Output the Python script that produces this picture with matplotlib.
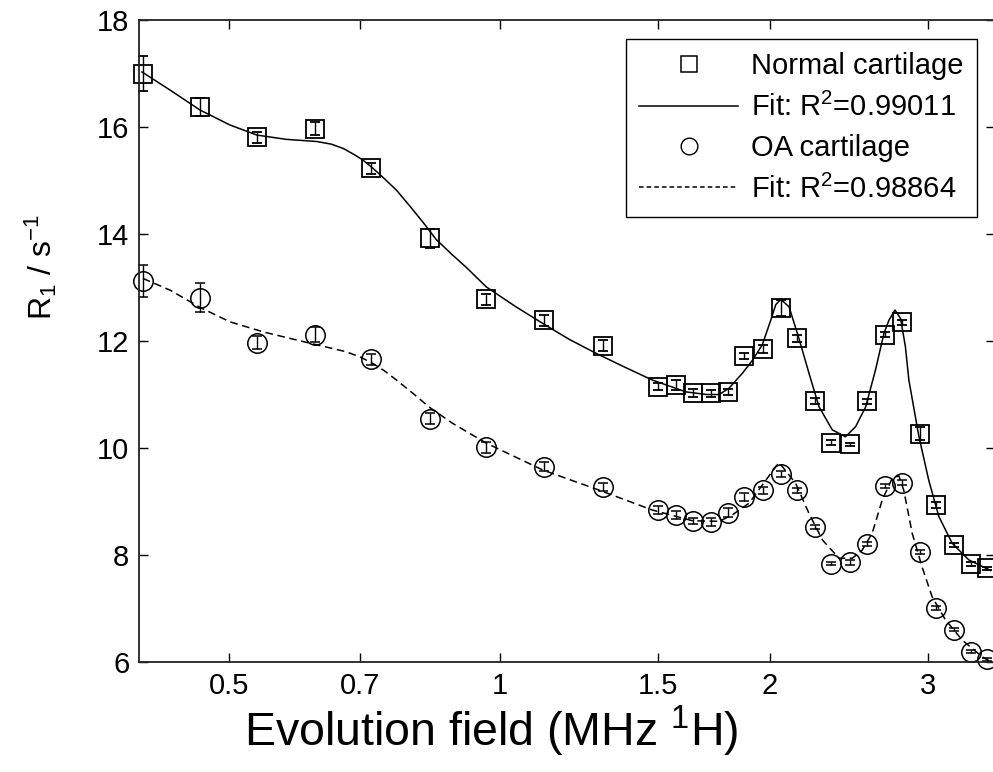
import numpy as np
import matplotlib
matplotlib.use('Agg')
import matplotlib.pyplot as plt
from matplotlib.lines import Line2D
from matplotlib.ticker import FixedLocator, FixedFormatter, NullLocator

# evolution field (MHz 1H) of each measured point
freq = [0.401, 0.464, 0.537, 0.623, 0.720, 0.836, 0.967, 1.122, 1.303,
        1.502, 1.571, 1.643, 1.721, 1.794, 1.872, 1.965, 2.056, 2.142,
        2.243, 2.340, 2.453, 2.566, 2.683, 2.806, 2.934, 3.060, 3.204,
        3.352, 3.489]

# R1 (1/s), normal cartilage
normal_r1 = [17.00, 16.38, 15.81, 15.97, 15.23, 13.92, 12.78, 12.39, 11.91,
             11.15, 11.18, 11.03, 11.02, 11.05, 11.72, 11.85, 12.61, 12.05,
             10.88, 10.10, 10.07, 10.87, 12.12, 12.35, 10.27, 8.93, 8.19,
             7.83, 7.75]
normal_err = [0.33, 0.17, 0.10, 0.12, 0.10, 0.18, 0.10, 0.10, 0.10,
              0.07, 0.10, 0.07, 0.07, 0.05, 0.06, 0.07, 0.15, 0.06,
              0.06, 0.05, 0.03, 0.04, 0.05, 0.05, 0.12, 0.06, 0.04,
              0.03, 0.03]

# R1 (1/s), OA cartilage
oa_r1 = [13.12, 12.81, 11.97, 12.12, 11.66, 10.55, 10.01, 9.65, 9.27,
         8.84, 8.75, 8.64, 8.62, 8.79, 9.08, 9.21, 9.51, 9.21,
         8.52, 7.84, 7.86, 8.20, 9.29, 9.35, 8.06, 7.01, 6.60,
         6.19, 6.05]
oa_err = [0.30, 0.27, 0.12, 0.14, 0.10, 0.10, 0.10, 0.08, 0.08,
          0.07, 0.08, 0.06, 0.07, 0.08, 0.07, 0.07, 0.06, 0.05,
          0.04, 0.03, 0.05, 0.04, 0.04, 0.05, 0.04, 0.03, 0.03,
          0.03, 0.03]

# fitted curves
normal_fit_freq = [0.400, 0.430, 0.464, 0.501, 0.537, 0.579, 0.626, 0.650,
                   0.670, 0.690, 0.705, 0.723, 0.745, 0.768, 0.795, 0.822,
                   0.850, 0.885, 0.918, 0.967, 1.043, 1.117, 1.196, 1.281,
                   1.383, 1.480, 1.612, 1.700, 1.756, 1.801, 1.864, 1.912,
                   1.961, 2.004, 2.030, 2.056, 2.100, 2.154, 2.210, 2.268,
                   2.346, 2.427, 2.491, 2.556, 2.621, 2.678, 2.713, 2.755,
                   2.795, 2.830, 2.855, 2.929, 3.004, 3.083, 3.190, 3.328,
                   3.520]
normal_fit_r1 = [17.03, 16.69, 16.32, 16.04, 15.85, 15.77, 15.73, 15.68,
                 15.60, 15.48, 15.38, 15.23, 15.03, 14.82, 14.52, 14.22,
                 13.90, 13.62, 13.38, 13.01, 12.64, 12.33, 12.03, 11.77,
                 11.50, 11.27, 11.05, 11.00, 11.00, 11.12, 11.40, 11.64,
                 11.93, 12.39, 12.68, 12.78, 12.64, 12.05, 11.40, 10.77,
                 10.34, 10.21, 10.40, 10.77, 11.46, 12.14, 12.39, 12.58,
                 12.42, 11.89, 11.27, 10.22, 9.40, 8.72, 8.22, 7.91,
                 7.71]

oa_fit_freq = [0.401, 0.430, 0.464, 0.501, 0.546, 0.615, 0.675, 0.700,
               0.723, 0.745, 0.768, 0.800, 0.836, 0.887, 0.967, 1.117,
               1.292, 1.480, 1.640, 1.756, 1.816, 1.896, 1.979, 2.047,
               2.136, 2.210, 2.288, 2.387, 2.470, 2.533, 2.599, 2.667,
               2.735, 2.783, 2.818, 2.879, 2.953, 3.030, 3.135, 3.273,
               3.444, 3.520]
oa_fit_r1 = [13.17, 12.95, 12.63, 12.36, 12.17, 11.96, 11.80, 11.70,
             11.58, 11.44, 11.27, 11.03, 10.76, 10.46, 10.09, 9.59,
             9.21, 8.84, 8.64, 8.63, 8.75, 8.97, 9.40, 9.73,
             9.34, 8.78, 8.28, 7.94, 7.94, 8.09, 8.41, 9.03,
             9.43, 9.48, 9.21, 8.41, 7.78, 7.22, 6.79, 6.41,
             6.10, 6.00]

x_ticks = [0.5, 0.7, 1, 1.5, 2, 3]
x_tick_labels = ['0.5', '0.7', '1', '1.5', '2', '3']
y_ticks = [6, 8, 10, 12, 14, 16, 18]

legend_labels = ['Normal cartilage', 'Fit: R$^2$=0.99011',
                 'OA cartilage', 'Fit: R$^2$=0.98864']


def main():
    plt.rcParams['font.family'] = ['Liberation Sans', 'DejaVu Sans']
    plt.rcParams['mathtext.fontset'] = 'custom'
    plt.rcParams['mathtext.rm'] = 'Liberation Sans'
    plt.rcParams['mathtext.it'] = 'Liberation Sans:italic'
    plt.rcParams['mathtext.bf'] = 'Liberation Sans:bold'

    fig = plt.figure(figsize=(9.93, 7.72), dpi=100)
    ax = fig.add_axes([0.140, 0.1425, 0.862, 0.8315])

    ax.plot(normal_fit_freq, normal_fit_r1, '-', color='black', lw=1.1)
    ax.plot(oa_fit_freq, oa_fit_r1, '--', color='black', lw=1.1,
            dashes=(5, 3))

    ax.errorbar(freq, normal_r1, yerr=normal_err, fmt='s', ms=12.5,
                mfc='none', mec='black', mew=1.3, ecolor='black',
                elinewidth=1.0, capsize=3.5, capthick=1.0, clip_on=False)
    ax.errorbar(freq, oa_r1, yerr=oa_err, fmt='o', ms=14,
                mfc='none', mec='black', mew=1.1, ecolor='black',
                elinewidth=1.0, capsize=3.5, capthick=1.0, clip_on=False)

    ax.set_xscale('log')
    ax.set_xlim(0.397, 3.56)
    ax.set_ylim(6, 18)
    ax.xaxis.set_major_locator(FixedLocator(x_ticks))
    ax.xaxis.set_major_formatter(FixedFormatter(x_tick_labels))
    ax.xaxis.set_minor_locator(NullLocator())
    ax.set_yticks(y_ticks)
    ax.tick_params(direction='in', length=6.5, width=1.0, labelsize=21,
                   top=True, right=True, pad=7)
    for spine in ax.spines.values():
        spine.set_linewidth(1.3)
        spine.set_color('#222222')

    ax.set_xlabel('Evolution field (MHz $^1$H)', fontsize=33.5)
    ax.xaxis.set_label_coords(0.411, -0.065)
    ax.set_ylabel('R$_1$ / s$^{-1}$', fontsize=23)
    ax.yaxis.set_label_coords(-0.093, 0.615)

    handles = [
        Line2D([], [], ls='none', marker='s', ms=11, mfc='none',
               mec='black', mew=1.1),
        Line2D([], [], ls='-', color='black', lw=1.1),
        Line2D([], [], ls='none', marker='o', ms=12, mfc='none',
               mec='black', mew=1.0),
        Line2D([], [], ls='--', color='black', lw=1.1, dashes=(3, 2)),
    ]
    leg = ax.legend(handles, legend_labels, loc='upper right',
                    bbox_to_anchor=(0.979, 0.970), borderaxespad=0,
                    fontsize=21, frameon=True, fancybox=False,
                    framealpha=1, edgecolor='black', handlelength=3.4,
                    handletextpad=0.45, borderpad=0.45, labelspacing=0.42)
    leg.get_frame().set_linewidth(1.0)

    fig.savefig('out.png', dpi=100, facecolor='white')


if __name__ == "__main__":
    main()
